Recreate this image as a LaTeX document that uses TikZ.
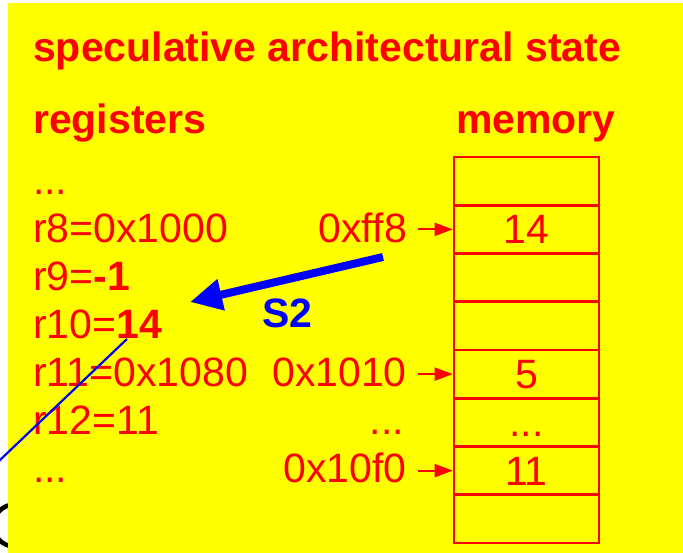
\documentclass[tikz,border=0pt]{standalone}
\usepackage{fontspec}
\setmainfont{Liberation Sans}
\usetikzlibrary{arrows.meta}
\definecolor{sred}{RGB}{255,0,0}
\definecolor{syellow}{RGB}{255,255,0}
\definecolor{sblue}{RGB}{0,0,255}
\newcommand{\cdotsrow}{...}
\tikzset{
  big/.style={font=\fontsize{41}{48}\selectfont, text=sred, inner sep=0pt},
  bigbold/.style={font=\fontsize{41}{48}\selectfont\bfseries, text=sred, inner sep=0pt},
  cell/.style={draw=sred, line width=2.6pt, minimum width=145pt, minimum height=48.25pt,
    inner sep=0pt, text height=29pt, text depth=0pt, text=sred,
    font=\fontsize{41}{48}\selectfont},
  memarrow/.style={draw=sred, line width=2pt, -{Triangle[length=18pt,width=13pt]}, shorten <=11pt},
}
\begin{document}
\begin{tikzpicture}[x=1pt,y=-1pt]
\useasboundingbox (0,0) rectangle (683,552);
\clip (0,0) rectangle (683,552);
% ring partly hidden behind the panel
\draw[black, line width=4.5pt] (14.5,525.5) circle (21);
% panel
\fill[syellow] (8,2.5) rectangle (700,570);
% headings
\node[bigbold, anchor=base west] (title) at (33,61) {speculative architectural state};
\node[bigbold, anchor=base west] (regs) at (33,133) {registers};
\node[bigbold, anchor=base west] (mem) at (456,133) {memory};
% register file
\node[big, anchor=base west] (rdots1) at (33,194) {...};
\node[big, anchor=base west] (r8) at (33,242) {r8=0x1000};
\node[big, anchor=base west] (r9) at (33,290) {r9=\textbf{-1}};
\node[big, anchor=base west] (r10) at (33,338) {r10=\textbf{14}};
\node[big, anchor=base west] (r11) at (33,386) {r11=0x1080};
\node[big, anchor=base west] (r12) at (33,434) {r12=11};
\node[big, anchor=base west] (rdots2) at (33,482) {...};
% memory cells
\foreach \i/\t in {1/{},2/{14},3/{},4/{},5/{5},6/{\cdotsrow},7/{11},8/{}}{
  \node[cell] (c\i) at (526.5,{157+48.25*(\i-0.5)}) {\t};
}
% addresses
\node[big, anchor=base east] (a1) at (407,242) {0xff8};
\node[big, anchor=base east] (a2) at (407,386) {0x1010};
\node[big, anchor=base east] (a3) at (404,434) {...};
\node[big, anchor=base east] (a4) at (407,482) {0x10f0};
\draw[memarrow] (c2.west -| a1.east) -- (c2.west);
\draw[memarrow] (c5.west -| a2.east) -- (c5.west);
\draw[memarrow] (c7.west -| a4.east) -- (c7.west);
% load S2
\coordinate (s2from) at (383,257);
\coordinate (s2to) at (190,302);
\draw[sblue, line width=8pt, -{Triangle[length=32pt,width=30pt]}] (s2from) -- (s2to);
\node[font=\fontsize{41}{48}\selectfont\bfseries, text=sblue, inner sep=0pt, anchor=base west] (s2) at (262,327) {S2};
% thin link leaving to the left
\coordinate (linkA) at (127,339);
\coordinate (linkB) at (-21,480);
\draw[sblue, line width=2.2pt] (linkA) -- (linkB);
\end{tikzpicture}
\end{document}
